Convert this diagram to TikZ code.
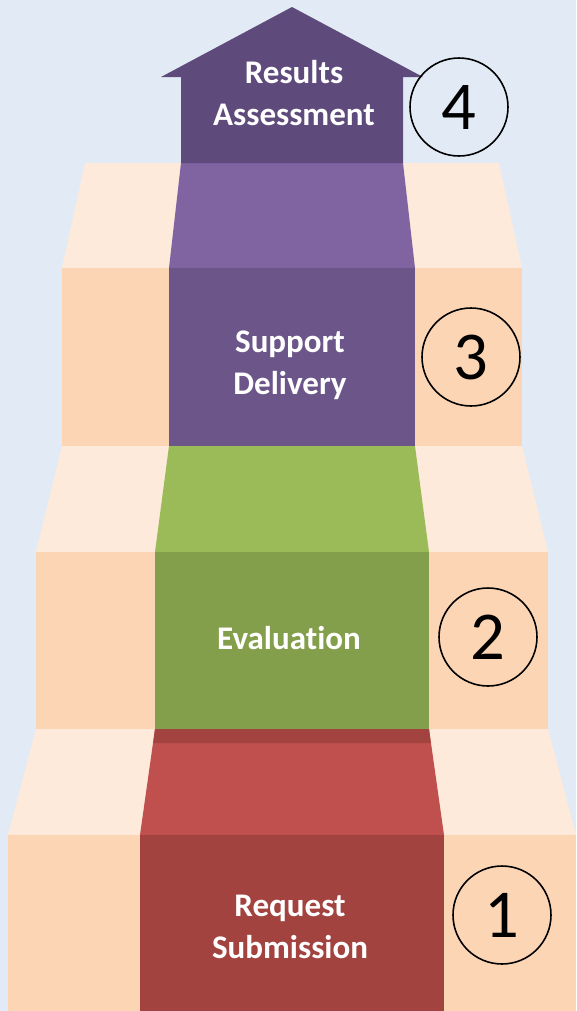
\documentclass[tikz,border=0pt]{standalone}
\usepackage{fontspec}
\setmainfont{Carlito}[Ligatures=NoCommon]
\definecolor{bgblue}{HTML}{E2EBF5}
\definecolor{sidetread}{HTML}{FDEADA}
\definecolor{sideriser}{HTML}{FCD5B5}
\definecolor{redtread}{HTML}{C0504D}
\definecolor{redriser}{HTML}{A34340}
\definecolor{greentread}{HTML}{9BBB59}
\definecolor{greenriser}{HTML}{849F4B}
\definecolor{purpletread}{HTML}{8064A2}
\definecolor{purpleriser}{HTML}{6C5589}
\definecolor{arrowpurple}{HTML}{5F4B7B}
% one step: tread top, riser top, riser bottom, outer half widths (bottom, top),
% inner half widths (bottom, top), tread colour, riser colour
\newcommand{\drawstep}[9]{
    \fill[sidetread] (292-#5,#1) -- (292+#5,#1) -- (292+#4,#2) -- (292-#4,#2) -- cycle;
    \fill[sideriser] (292-#4,#2) rectangle (292+#4,#3);
    \fill[#8] (292-#7,#1) -- (292+#7,#1) -- (292+#6,#2) -- (292-#6,#2) -- cycle;
    \fill[#9] (292-#6,#2) rectangle (292+#6,#3);
}

\begin{document}
\begin{tikzpicture}[x=0.02cm, y=-0.02cm,
    steplabel/.style={text=white, align=center, font=\bfseries\fontsize{18.8}{24}\selectfont},
    stepnum/.style={circle, draw=black, line width=0.9pt, minimum size=1.96cm, inner sep=0pt,
        font=\fontsize{39}{39}\selectfont}]
    % Background
    \useasboundingbox (0,0) rectangle (576,1011);
    \fill[bgblue] (0,0) rectangle (576,1011);

    % Steps
    \drawstep{729}{835}{1011}{284}{256}{152}{137}{redtread}{redriser}
    \fill[redriser] (292-137,729) -- (292+137,729) -- (292+138.8,743) -- (292-138.8,743) -- cycle;
    \drawstep{446}{552}{729}{256}{230}{137}{123}{greentread}{greenriser}
    \drawstep{163}{268}{446}{230}{207}{123}{111}{purpletread}{purpleriser}

    % Arrow on top
    \fill[arrowpurple] (292-111,163) -- (292-111,77) -- (292-131,77) -- (292,7)
        -- (292+131,77) -- (292+111,77) -- (292+111,163) -- cycle;

    % Labels
    \node[steplabel] (results) at (294,93) {Results\\Assessment};
    \node[steplabel] (support) at (290,365) {Support\\Delivery};
    \node[steplabel] (evaluation) at (289,638) {Evaluation};
    \node[steplabel] (request) at (290,927) {Request\\Submission};

    % Numbers
    \node[stepnum] (num1) at (502,915) {1};
    \node[stepnum] (num2) at (488,637) {2};
    \node[stepnum] (num3) at (471,357) {3};
    \node[stepnum] (num4) at (459,107) {4};
\end{tikzpicture}
\end{document}
